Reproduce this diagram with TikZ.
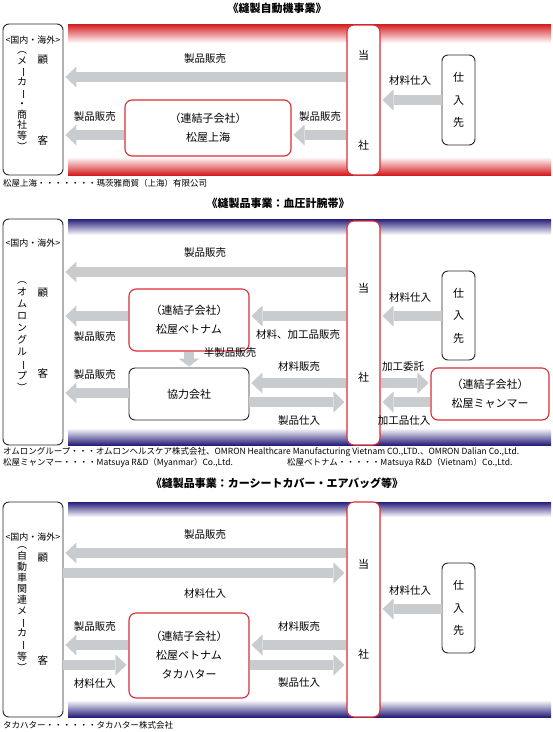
\documentclass[tikz,border=0pt]{standalone}
\usepackage{fontspec}
\usepackage{graphicx}
\setmainfont{Noto Sans CJK JP}
\usetikzlibrary{arrows.meta, positioning, calc}

\definecolor{flowgray}{RGB}{200,204,206}
\definecolor{boxred}{RGB}{215,45,55}
\definecolor{bandred}{RGB}{212,28,30}
\definecolor{bandblue}{RGB}{38,30,122}

% long vowel mark turned for vertical text
\newcommand{\tatebo}{\rotatebox[origin=c]{-90}{ー}}

\begin{document}
\begin{tikzpicture}[x=1pt, y=-1pt,
  kbox/.style={draw=black!85, line width=0.9pt, rounded corners=6pt, fill=white, inner sep=0pt, align=center, font=\fontsize{11}{19}\selectfont},
  rbox/.style={draw=boxred, line width=1.1pt, rounded corners=7pt, fill=white, inner sep=0pt, align=center, font=\fontsize{11}{19}\selectfont},
  flow/.style={draw=flowgray, line width=10pt, -{Triangle[length=11pt, width=21pt, line width=0pt]}, shorten >=2pt},
  lbl/.style={inner sep=0pt, font=\fontsize{10.5}{12}\selectfont},
  ttl/.style={inner sep=0pt, font=\fontsize{11}{12}\selectfont\bfseries},
  note/.style={inner sep=0pt, anchor=west, font=\fontsize{8.5}{10}\selectfont},
  area/.style={inner sep=0pt, font=\fontsize{9}{10}\selectfont},
  vtxt/.style={inner sep=0pt, align=center}]

\useasboundingbox (0,0) rectangle (553,732);
\fill[white] (0,0) rectangle (553,732);

% --- 縫製自動機事業
\node[ttl] (t1) at (277,8) {《縫製自動機事業》};
\shade[top color=bandred, bottom color=white] (68,24) rectangle (551,43);
\shade[top color=white, bottom color=bandred] (68,157) rectangle (551,175);

\node[kbox, minimum width=60pt, minimum height=151pt] (kokyaku1) at (33,99.5) {};
\node[area] (kk1) at (33,40) {<国内・海外>};
\node[vtxt, font=\fontsize{10}{10.8}\selectfont] (kv1) at (22,101) {︵\\メ\\\tatebo\\カ\\\tatebo\\・\\商\\社\\等\\︶};
\node[lbl] (ko1) at (43,60) {顧};
\node[lbl] (kya1) at (43,140) {客};
\node[rbox, minimum width=33pt, minimum height=150pt, font=\fontsize{11}{13}\selectfont] (tosha1) at (363.5,100) {当\\[77pt]社};
\node[kbox, minimum width=33pt, minimum height=90pt, font=\fontsize{11}{22.5}\selectfont] (shiire1) at (458.5,100) {仕\\入\\先};
\node[rbox, minimum width=166pt, minimum height=56pt] (shanghai) at (208,128) {（連結子会社）\\松屋上海};

\coordinate (a1) at (0,77);
\coordinate (a2) at (0,100);
\coordinate (a3) at (0,135);
\draw[flow] (tosha1.west |- a1) -- (kokyaku1.east |- a1);
\draw[flow] (shiire1.west |- a2) -- (tosha1.east |- a2);
\draw[flow] (tosha1.west |- a3) -- (shanghai.east |- a3);
\draw[flow] (shanghai.west |- a3) -- (kokyaku1.east |- a3);

\node[lbl] (l1a) at (205,59) {製品販売};
\node[lbl] (l1b) at (410,80) {材料仕入};
\node[lbl] (l1c) at (320,117) {製品販売};
\node[lbl] (l1d) at (95,117) {製品販売};

\node[note] (n1) at (3,183) {松屋上海・・・・・・・瑪茨雅商貿（上海）有限公司};

% --- 縫製品事業：血圧計腕帯
\node[ttl] (t2) at (278,203) {《縫製品事業：血圧計腕帯》};
\shade[top color=bandblue, bottom color=white] (68,219) rectangle (551,235);
\shade[top color=white, bottom color=bandblue] (68,428) rectangle (551,445);

\node[kbox, minimum width=60pt, minimum height=226pt] (kokyaku2) at (33,332) {};
\node[area] (kk2) at (33,243) {<国内・海外>};
\node[vtxt, font=\fontsize{10}{12}\selectfont] (kv2) at (22,337) {︵\\オ\\ム\\ロ\\ン\\グ\\ル\\\tatebo\\プ\\︶};
\node[lbl] (ko2) at (43,293) {顧};
\node[lbl] (kya2) at (43,373) {客};
\node[rbox, minimum width=33pt, minimum height=224pt, font=\fontsize{11}{13}\selectfont] (tosha2) at (363.5,333) {当\\[76pt]社};
\node[kbox, minimum width=33pt, minimum height=89pt, font=\fontsize{11}{22.5}\selectfont] (shiire2) at (458.5,315.5) {仕\\入\\先};
\node[rbox, minimum width=120pt, minimum height=62pt] (vietnam) at (189,320) {（連結子会社）\\松屋ベトナム};
\node[kbox, minimum width=120pt, minimum height=52pt] (kyoryoku) at (189,394) {協力会社};
\node[rbox, minimum width=118pt, minimum height=52pt] (myanmar) at (490,394) {（連結子会社）\\松屋ミャンマー};

\coordinate (b1) at (0,272);
\coordinate (b2) at (0,316);
\coordinate (b3) at (0,383);
\coordinate (b4) at (0,402);
\coordinate (b5) at (0,393);
\draw[flow] (tosha2.west |- b1) -- (kokyaku2.east |- b1);
\draw[flow] (shiire2.west |- b2) -- (tosha2.east |- b2);
\draw[flow] (tosha2.west |- b2) -- (vietnam.east |- b2);
\draw[flow] (vietnam.west |- b2) -- (kokyaku2.east |- b2);
\draw[flow, shorten >=1pt, -{Triangle[length=8pt, width=21pt, line width=0pt]}] (vietnam.south) -- (kyoryoku.north);
\draw[flow] (tosha2.west |- b3) -- (kyoryoku.east |- b3);
\draw[flow] (kyoryoku.east |- b4) -- (tosha2.west |- b4);
\draw[flow] (kyoryoku.west |- b5) -- (kokyaku2.east |- b5);
\draw[flow] (tosha2.east |- b3) -- (myanmar.west |- b3);
\draw[flow] (myanmar.west |- b4) -- (tosha2.east |- b4);

\node[lbl] (l2a) at (205,253) {製品販売};
\node[lbl] (l2b) at (410,297) {材料仕入};
\node[lbl] (l2c) at (298,335) {材料、加工品販売};
\node[lbl] (l2d) at (95,337) {製品販売};
\node[lbl] (l2e) at (230,353) {半製品販売};
\node[lbl] (l2f) at (95,375) {製品販売};
\node[lbl] (l2g) at (299,367) {材料販売};
\node[lbl] (l2h) at (299,421) {製品仕入};
\node[lbl] (l2i) at (403,367) {加工委託};
\node[lbl] (l2j) at (404,421) {加工品仕入};

\node[note] (n2) at (3,452) {オムロングループ・・・オムロンヘルスケア株式会社、OMRON Healthcare Manufacturing Vietnam CO.,LTD.、OMRON Dalian Co.,Ltd.};
\node[note] (n3) at (3,463) {松屋ミャンマー・・・・Matsuya R\&D（Myanmar）Co.,Ltd.};
\node[note] (n4) at (287,463) {松屋ベトナム・・・・・Matsuya R\&D（Vietnam）Co.,Ltd.};

% --- 縫製品事業：カーシートカバー・エアバッグ等
\node[ttl] (t3) at (277,483) {《縫製品事業：カーシートカバー・エアバッグ等》};
\shade[top color=bandblue, bottom color=white] (68,502) rectangle (551,517);
\shade[top color=white, bottom color=bandblue] (68,700) rectangle (551,717);

\node[kbox, minimum width=60pt, minimum height=215pt] (kokyaku3) at (33,609.5) {};
\node[area] (kk3) at (33,537) {<国内・海外>};
\node[vtxt, font=\fontsize{10}{11}\selectfont] (kv3) at (22,609) {︵\\自\\動\\車\\関\\連\\メ\\\tatebo\\カ\\\tatebo\\等\\︶};
\node[lbl] (ko3) at (43,558) {顧};
\node[lbl] (kya3) at (43,660) {客};
\node[rbox, minimum width=33pt, minimum height=215pt, font=\fontsize{11}{13}\selectfont] (tosha3) at (363.5,609.5) {当\\[77pt]社};
\node[kbox, minimum width=33pt, minimum height=90pt, font=\fontsize{11}{22.5}\selectfont] (shiire3) at (458.5,608) {仕\\入\\先};
\node[rbox, minimum width=120pt, minimum height=85pt] (takahata) at (189,655.5) {（連結子会社）\\松屋ベトナム\\タカハター};

\coordinate (c1) at (0,553);
\coordinate (c2) at (0,573);
\coordinate (c3) at (0,609);
\coordinate (c4) at (0,645);
\coordinate (c5) at (0,665);
\draw[flow] (tosha3.west |- c1) -- (kokyaku3.east |- c1);
\draw[flow] (kokyaku3.east |- c2) -- (tosha3.west |- c2);
\draw[flow] (shiire3.west |- c3) -- (tosha3.east |- c3);
\draw[flow] (tosha3.west |- c4) -- (takahata.east |- c4);
\draw[flow] (takahata.west |- c4) -- (kokyaku3.east |- c4);
\draw[flow] (takahata.east |- c5) -- (tosha3.west |- c5);
\draw[flow] (kokyaku3.east |- c5) -- (takahata.west |- c5);

\node[lbl] (l3a) at (205,535) {製品販売};
\node[lbl] (l3b) at (205,593) {材料仕入};
\node[lbl] (l3c) at (410,590) {材料仕入};
\node[lbl] (l3d) at (95,627) {製品販売};
\node[lbl] (l3e) at (95,683) {材料仕入};
\node[lbl] (l3f) at (299,627) {材料販売};
\node[lbl] (l3g) at (299,683) {製品仕入};

\node[note] (n5) at (3,725) {タカハター・・・・・・タカハター株式会社};

\end{tikzpicture}
\end{document}
